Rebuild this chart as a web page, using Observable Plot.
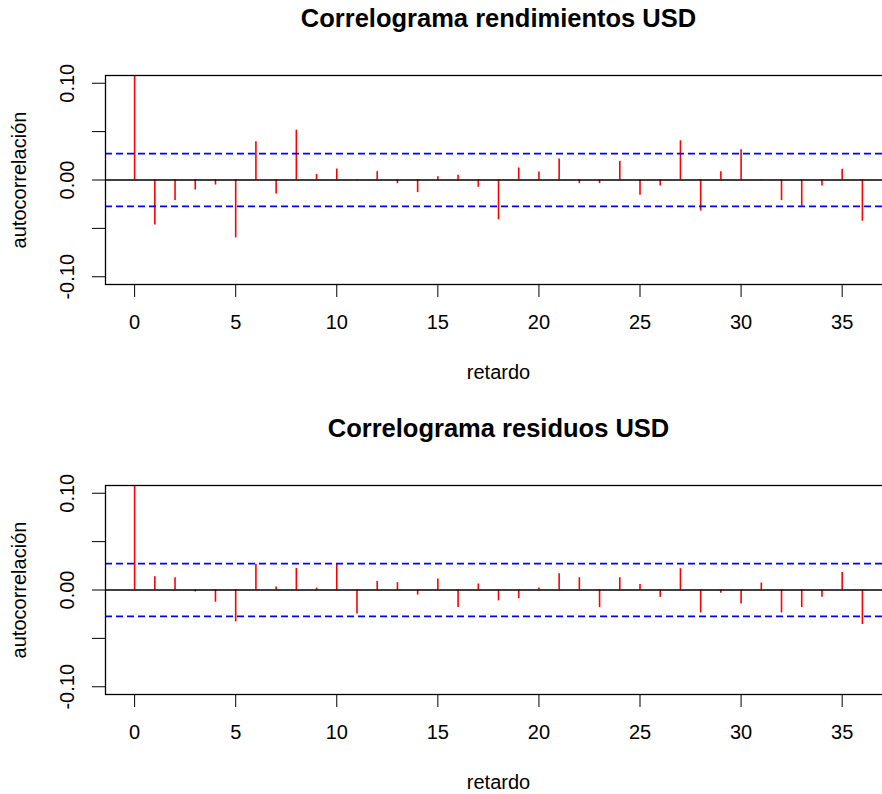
<!DOCTYPE html>
<html>
<head>
<meta charset="utf-8">
<script src="https://cdn.jsdelivr.net/npm/d3@7"></script>
<script src="https://cdn.jsdelivr.net/npm/@observablehq/plot@0.6"></script>
<style>
  html, body { margin: 0; padding: 0; background: white; }
  #chart { width: 882px; height: 794px; overflow: hidden; position: relative; }
  #chart svg { display: block; }
</style>
</head>
<body>
<div id="chart"></div>
<script>
// ---- data ----
const lags = [0,1,2,3,4,5,6,7,8,9,10,11,12,13,14,15,16,17,18,19,20,21,22,23,24,25,26,27,28,29,30,31,32,33,34,35,36];

const acfRendimientos = [1, -0.0464, -0.0213, -0.0103, -0.0052, -0.0598, 0.0395, -0.0144, 0.0515, 0.0058,
  0.0113, 0.0005, 0.0086, -0.0038, -0.0131, 0.0034, 0.0048, -0.0076, -0.0412, 0.0124,
  0.0082, 0.0216, -0.0038, -0.0038, 0.0192, -0.0158, -0.0062, 0.0405, -0.0320, 0.0086,
  0.0313, 0.0005, -0.0213, -0.0271, -0.0062, 0.0110, -0.0426];

const acfResiduos = [1, 0.0137, 0.0127, -0.0020, -0.0127, -0.0330, 0.0265, 0.0030, 0.0223, 0.0020,
  0.0265, -0.0247, 0.0089, 0.0076, -0.0052, 0.0113, -0.0182, 0.0062, -0.0113, -0.0089,
  0.0020, 0.0168, 0.0127, -0.0182, 0.0127, 0.0058, -0.0076, 0.0220, -0.0237, -0.0034,
  -0.0144, 0.0072, -0.0237, -0.0182, -0.0076, 0.0182, -0.0357];

const confLimit = 0.0273;

const titles = ["Correlograma rendimientos USD", "Correlograma residuos USD"];
const xLabel = "retardo";
const yLabel = "autocorrelación";

const xTicks = [0, 5, 10, 15, 20, 25, 30, 35];
const yTicks = [-0.10, -0.05, 0, 0.05, 0.10];
const yLabelValues = [-0.10, 0, 0.10];
const yLabelTexts = ["-0.10", "0.00", "0.10"];

// ---- drawing ----
function panel(title, values, height) {
  const data = lags.map((l, i) => ({lag: l, acf: values[i]}));
  return Plot.plot({
    width: 882,
    height: height,
    marginLeft: 105,
    marginRight: -9,
    marginTop: 75,
    marginBottom: height - 284,
    x: {domain: [-1.44, 37.44]},
    y: {domain: [-0.108, 0.108]},
    style: {
      fontFamily: "'Liberation Sans', Arial, sans-serif",
      fontSize: "20px",
      color: "#000",
      background: "white",
      overflow: "hidden"
    },
    marks: [
      Plot.ruleX(data, {x: "lag", y1: 0, y2: "acf", stroke: "red", strokeWidth: 1.6, clip: true}),
      Plot.ruleY([0], {stroke: "#000", strokeWidth: 1.3}),
      Plot.ruleY([confLimit, -confLimit], {stroke: "blue", strokeWidth: 1.6, strokeDasharray: "7,4"}),
      Plot.frame({stroke: "#000", strokeWidth: 1.3}),
      Plot.axisX(xTicks, {tickSize: 13, tickPadding: 17, fontSize: 20, label: null, tickFormat: d => String(d)}),
      Plot.axisY(yTicks, {tickSize: 13, fill: "none", label: null}),
      Plot.axisY(yLabelValues, {tickSize: 0, tickPadding: 32, tickRotate: -90, fontSize: 20, label: null,
        tickFormat: d => yLabelTexts[yLabelValues.indexOf(d)]}),
      Plot.text([title], {frameAnchor: "top", dy: -49, lineAnchor: "bottom", fontWeight: "bold", fontSize: 25.5}),
      Plot.text([xLabel], {frameAnchor: "bottom", dy: 94, lineAnchor: "bottom", fontSize: 20}),
      Plot.text([yLabel], {frameAnchor: "left", dx: -80, rotate: -90, textAnchor: "middle", lineAnchor: "bottom", fontSize: 20})
    ]
  });
}

const chart = document.getElementById("chart");
chart.appendChild(panel(titles[0], acfRendimientos, 410));
chart.appendChild(panel(titles[1], acfResiduos, 384));
</script>
</body>
</html>
